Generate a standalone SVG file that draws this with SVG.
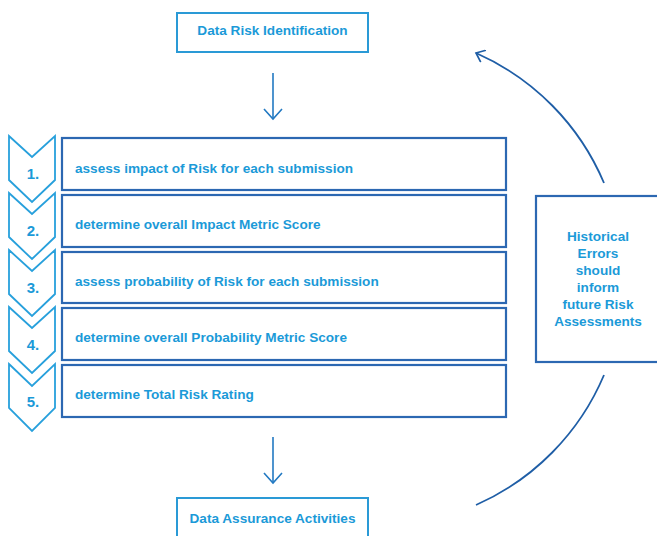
<svg xmlns="http://www.w3.org/2000/svg" width="657" height="536" viewBox="0 0 657 536">
  <style>
    .lbl { font-family: "Liberation Sans", Arial, sans-serif; font-weight: bold; font-size: 13.6px; fill: #1b9ad8; }
    .mid { text-anchor: middle; }
    .term { fill: #ffffff; stroke: #2a9ad6; stroke-width: 2; }
    .step { fill: #ffffff; stroke: #2c68b2; stroke-width: 2.2; }
    .chev { fill: #ffffff; stroke: #27a0dc; stroke-width: 1.8; stroke-linejoin: miter; }
    .num { font-family: "Liberation Sans", Arial, sans-serif; font-weight: bold; font-size: 15px; fill: #1b9ad8; text-anchor: middle; }
    .flow { fill: none; stroke: #2279c2; stroke-width: 1.6; }
    .loop { fill: none; stroke: #1f5ea6; stroke-width: 1.8; }
  </style>
  <defs>
    <!-- wide open chevron head for the vertical flow arrows -->
    <marker id="open-arrow" viewBox="0 0 20 20" refX="11" refY="10" markerWidth="20" markerHeight="20" markerUnits="userSpaceOnUse" orient="auto">
      <path d="M1,1 L11,10 L1,19" fill="none" stroke="#2279c2" stroke-width="1.6"/>
    </marker>
    <!-- smaller head for the feedback arc -->
    <marker id="open-arrow-dark" viewBox="0 0 14 14" refX="9" refY="7" markerWidth="14" markerHeight="14" markerUnits="userSpaceOnUse" orient="auto">
      <path d="M1,0.5 L9,7 L1,13.5" fill="none" stroke="#1f5ea6" stroke-width="1.7"/>
    </marker>
  </defs>

  <rect width="657" height="536" fill="#ffffff"/>

  <g id="connectors">
    <line class="flow" x1="273" y1="73" x2="273" y2="119" marker-end="url(#open-arrow)"/>
    <line class="flow" x1="273" y1="437" x2="273" y2="483" marker-end="url(#open-arrow)"/>
    <path class="loop" d="M604,183 A247,247 0 0,0 476,53" marker-end="url(#open-arrow-dark)"/>
    <path class="loop" d="M604,375 A247,247 0 0,1 476,505"/>
  </g>

  <g id="data-risk-identification">
    <rect class="term" x="177" y="13" width="191" height="39"/>
    <text class="lbl mid" x="272.5" y="35">Data Risk Identification</text>
  </g>

  <g id="step-1">
    <path class="chev" d="M9,136 L32,157 L55,136 L55,180 L32,202 L9,180 Z"/>
    <text class="num" x="33" y="179">1.</text>
    <rect class="step" x="62" y="138" width="444" height="52"/>
    <text class="lbl" x="75" y="173">assess impact of Risk for each submission</text>
  </g>

  <g id="step-2">
    <path class="chev" d="M9,193 L32,214 L55,193 L55,237 L32,259 L9,237 Z"/>
    <text class="num" x="33" y="236">2.</text>
    <rect class="step" x="62" y="195" width="444" height="52"/>
    <text class="lbl" x="75" y="229">determine overall Impact Metric Score</text>
  </g>

  <g id="step-3">
    <path class="chev" d="M9,250 L32,271 L55,250 L55,294 L32,316 L9,294 Z"/>
    <text class="num" x="33" y="293">3.</text>
    <rect class="step" x="62" y="252" width="444" height="51"/>
    <text class="lbl" x="75" y="286">assess probability of Risk for each submission</text>
  </g>

  <g id="step-4">
    <path class="chev" d="M9,307 L32,328 L55,307 L55,351 L32,373 L9,351 Z"/>
    <text class="num" x="33" y="350">4.</text>
    <rect class="step" x="62" y="308" width="444" height="52"/>
    <text class="lbl" x="75" y="342">determine overall Probability Metric Score</text>
  </g>

  <g id="step-5">
    <path class="chev" d="M9,364 L32,386 L55,364 L55,408 L32,431 L9,408 Z"/>
    <text class="num" x="33" y="407">5.</text>
    <rect class="step" x="62" y="365" width="444" height="52"/>
    <text class="lbl" x="75" y="399">determine Total Risk Rating</text>
  </g>

  <g id="historical-errors">
    <rect class="step" x="536" y="196" width="125" height="166"/>
    <text class="lbl mid" x="598" y="241">Historical</text>
    <text class="lbl mid" x="598" y="258">Errors</text>
    <text class="lbl mid" x="598" y="275">should</text>
    <text class="lbl mid" x="598" y="292">inform</text>
    <text class="lbl mid" x="598" y="309">future Risk</text>
    <text class="lbl mid" x="598" y="326">Assessments</text>
  </g>

  <g id="data-assurance-activities">
    <rect class="term" x="177" y="498" width="191" height="45"/>
    <text class="lbl mid" x="272.5" y="523">Data Assurance Activities</text>
  </g>
</svg>
